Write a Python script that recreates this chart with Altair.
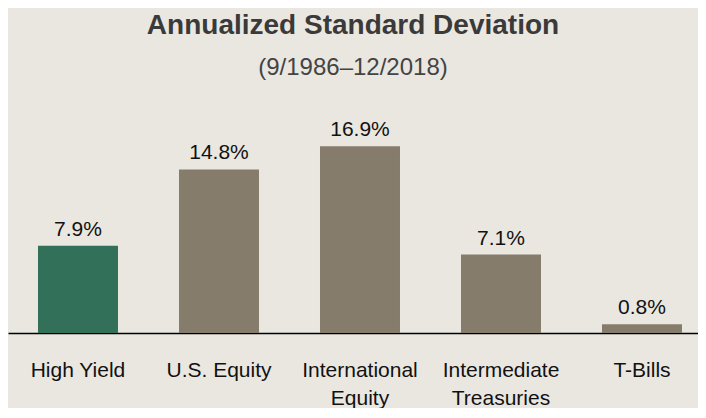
import altair as alt
import pandas as pd

categories = ["High Yield", "U.S. Equity", "International|Equity", "Intermediate|Treasuries", "T-Bills"]
values = [7.9, 14.8, 16.9, 7.1, 0.8]
groups = ["hy", "other", "other", "other", "other"]

df = pd.DataFrame({"category": categories, "value": values, "group": groups})
df["label"] = [f"{v:.1f}%" for v in values]

SANS = "'Liberation Sans', Arial, sans-serif"

x = alt.X(
    "category:N", sort=None, title=None,
    scale=alt.Scale(paddingInner=0.4326, paddingOuter=0.1631, align=0.652, round=False),
    axis=alt.Axis(labelAngle=0, labelExpr="split(datum.label, '|')", labelFont=SANS,
                  labelFontSize=21, labelColor="#111111", labelLineHeight=28,
                  labelPadding=26, ticks=False, tickSize=0, domainColor="#000000",
                  domainWidth=1.5, labelBaseline="top"),
)
y = alt.Y("value:Q", scale=alt.Scale(domain=[0, 18], nice=False), axis=None)

bars = alt.Chart(df).mark_bar().encode(
    x=x, y=y,
    color=alt.Color("group:N", scale=alt.Scale(domain=["hy", "other"], range=["#33705A", "#867C6B"]), legend=None),
)
text = alt.Chart(df).mark_text(dy=-10, baseline="alphabetic", font=SANS, fontSize=21, color="#111111").encode(
    x=x, y=y, text="label:N"
)

chart = (bars + text).properties(
    width=690, height=199,
    padding={"top": 126, "left": 0, "right": 0, "bottom": 75},
    autosize="none",
    background="#EAE7E1",
    title=alt.TitleParams(
        text="Annualized Standard Deviation", subtitle="(9/1986–12/2018)",
        font=SANS, fontSize=28, fontWeight="bold", color="#3A3A3A",
        subtitleFont=SANS, subtitleFontSize=24, subtitleColor="#444444",
        subtitlePadding=16, anchor="middle", offset=39,
    ),
).configure_view(strokeWidth=0)

chart.save("out.html", embed_options={"renderer": "svg", "actions": False})
